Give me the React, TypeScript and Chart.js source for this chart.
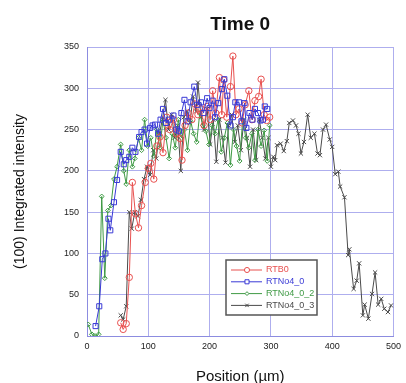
import React, { useEffect, useRef } from 'react';
import { Chart, registerables } from 'chart.js';
import { drawPoint } from 'chart.js/helpers';

Chart.register(...registerables);

const FONT = "'Liberation Sans', Arial, sans-serif";

const xTicks = [0, 100, 200, 300, 400, 500];
const yTicks = [0, 50, 100, 150, 200, 250, 300, 350];

const seriesNames = ['RTB0', 'RTNo4_0', 'RTNo4_0_2', 'RTNo4_0_3'];
const seriesColors = ['#e8504f', '#3a3ad6', '#3f9a45', '#4a4a4a'];

const redX = [55, 59, 64, 69, 74, 79, 84, 89, 95, 100, 104, 109, 114, 119, 124, 130, 135, 141, 146, 152, 155, 160, 165, 171, 176, 181, 186, 191, 196, 201, 205, 210, 216, 220, 223, 228, 234, 238, 243, 248, 253, 258, 264, 269, 274, 280, 284, 289, 293, 298];
const redY = [16, 8, 15, 71, 186, 148, 131, 158, 186, 203, 209, 190, 230, 241, 222, 265, 250, 262, 245, 239, 213, 255, 270, 262, 281, 268, 275, 255, 278, 262, 297, 270, 313, 268, 310, 265, 302, 339, 268, 275, 258, 280, 297, 262, 285, 290, 311, 268, 261, 265];

const blueX = [14, 20, 25, 30, 35, 38, 44, 49, 55, 60, 64, 69, 74, 79, 85, 89, 94, 98, 103, 107, 111, 116, 120, 124, 129, 134, 141, 146, 150, 154, 159, 164, 169, 175, 180, 186, 190, 196, 200, 205, 209, 214, 220, 224, 229, 234, 238, 242, 248, 252, 257, 260, 265, 270, 274, 279, 283, 287, 290, 294];
const blueY = [12, 36, 93, 100, 142, 128, 162, 189, 223, 208, 213, 217, 228, 223, 241, 247, 250, 233, 252, 255, 256, 245, 262, 275, 258, 262, 267, 250, 248, 270, 286, 260, 283, 302, 280, 283, 270, 288, 276, 285, 265, 282, 299, 311, 291, 255, 265, 283, 283, 260, 282, 252, 270, 262, 275, 270, 261, 262, 278, 275];

const greenX = [2, 8, 13, 19, 24, 29, 34, 39, 44, 49, 55, 60, 64, 69, 74, 78, 84, 89, 94, 99, 104, 109, 114, 119, 124, 129, 134, 139, 144, 149, 154, 159, 164, 169, 174, 179, 184, 189, 194, 199, 204, 209, 214, 219, 224, 229, 234, 239, 244, 249, 254, 259, 264, 269, 274, 279, 284, 289, 294, 298];
const greenY = [14, 2, 0, 2, 169, 70, 152, 158, 190, 205, 232, 200, 184, 225, 205, 215, 240, 225, 262, 230, 240, 218, 250, 228, 262, 240, 215, 245, 228, 262, 240, 250, 225, 260, 245, 235, 270, 255, 248, 232, 255, 245, 262, 223, 240, 258, 207, 250, 230, 212, 262, 240, 228, 245, 213, 250, 230, 249, 212, 255];

const blackX = [55, 59, 64, 69, 73, 78, 83, 88, 93, 98, 103, 108, 113, 118, 123, 128, 133, 138, 143, 148, 153, 158, 163, 168, 173, 178, 181, 186, 191, 196, 201, 206, 211, 216, 221, 226, 231, 236, 241, 246, 251, 256, 261, 266, 271, 276, 281, 286, 291, 296, 300, 304, 307, 310, 316, 321, 326, 330, 336, 341, 345, 349, 354, 360, 365, 371, 376, 380, 385, 390, 396, 400, 405, 410, 413, 420, 426, 428, 435, 440, 444, 450, 453, 459, 465, 470, 475, 480, 485, 491, 496];
const blackY = [25, 20, 36, 150, 130, 150, 145, 165, 190, 205, 195, 225, 215, 245, 262, 286, 250, 268, 240, 255, 200, 265, 272, 258, 290, 272, 307, 265, 250, 275, 232, 262, 211, 262, 240, 210, 255, 268, 235, 255, 225, 262, 240, 205, 250, 213, 262, 240, 215, 240, 205, 217, 213, 231, 233, 224, 236, 258, 261, 255, 245, 221, 235, 268, 240, 245, 221, 219, 250, 256, 238, 229, 196, 199, 181, 168, 98, 105, 57, 67, 88, 25, 38, 21, 51, 77, 38, 45, 33, 29, 37];

const seriesX = [redX, blueX, greenX, blackX];
const seriesY = [redY, blueY, greenY, blackY];
const pointStyles = ['circle', 'rect', 'rectRot', 'crossRot'];
const pointRadii = [3.2, 3.6, 2.4, 3];

const toPoints = (xs: number[], ys: number[]) => xs.map((x, i) => ({ x, y: ys[i] }));

const titlePlugin = {
  id: 'centeredTitle',
  afterDraw(chart: any) {
    const { ctx, chartArea } = chart;
    ctx.save();
    ctx.font = `bold 19px ${FONT}`;
    ctx.fillStyle = '#111';
    ctx.textAlign = 'center';
    ctx.textBaseline = 'middle';
    ctx.fillText('Time 0', (chartArea.left + chartArea.right) / 2, 25);
    ctx.restore();
  },
};

const legendPlugin = {
  id: 'insetLegend',
  afterDraw(chart: any) {
    const { ctx, chartArea } = chart;
    const bx = chartArea.left + 139;
    const by = chartArea.top + 213;
    const bw = 91;
    const bh = 55;
    ctx.save();
    ctx.fillStyle = '#fff';
    ctx.fillRect(bx, by, bw, bh);
    ctx.strokeStyle = '#555';
    ctx.lineWidth = 1.5;
    ctx.strokeRect(bx, by, bw, bh);
    ctx.font = `9px ${FONT}`;
    ctx.textBaseline = 'middle';
    ctx.textAlign = 'left';
    chart.data.datasets.forEach((ds: any, i: number) => {
      const y = by + 10 + i * 11.8;
      ctx.strokeStyle = ds.borderColor;
      ctx.lineWidth = 1;
      ctx.beginPath();
      ctx.moveTo(bx + 5, y);
      ctx.lineTo(bx + 36, y);
      ctx.stroke();
      ctx.fillStyle = '#fff';
      ctx.strokeStyle = ds.borderColor;
      ctx.lineWidth = 1;
      drawPoint(ctx, { pointStyle: ds.pointStyle, radius: ds.pointRadius * 0.8, borderWidth: 1, rotation: 0 } as any, bx + 21, y);
      ctx.fillStyle = ds.borderColor;
      ctx.fillText(ds.label, bx + 40, y);
    });
    ctx.restore();
  },
};

export default function App() {
  const canvasRef = useRef<HTMLCanvasElement | null>(null);

  useEffect(() => {
    const canvas = canvasRef.current;
    if (!canvas) return;
    const chart = new Chart(canvas, {
      type: 'line',
      data: {
        datasets: seriesNames.map((name, i) => ({
          label: name,
          data: toPoints(seriesX[i], seriesY[i]),
          borderColor: seriesColors[i],
          backgroundColor: 'rgba(255,255,255,0)',
          borderWidth: 1,
          pointStyle: pointStyles[i] as any,
          pointRadius: pointRadii[i],
          pointBorderWidth: 1,
          pointBorderColor: seriesColors[i],
          pointBackgroundColor: 'rgba(255,255,255,0)',
          tension: 0,
          fill: false,
          order: [1, 0, 2, 3][i],
        })),
      },
      options: {
        responsive: false,
        animation: false,
        events: [],
        layout: { padding: { top: 47, right: 8, left: 0, bottom: 0 } },
        plugins: {
          legend: { display: false },
          title: { display: false },
          tooltip: { enabled: false },
        },
        scales: {
          x: {
            type: 'linear',
            min: 0,
            max: 500,
            afterFit: (scale: any) => {
              scale.height = 47;
            },
            afterBuildTicks: (scale: any) => {
              scale.ticks = xTicks.map((v) => ({ value: v }));
            },
            ticks: {
              font: { family: FONT, size: 9 },
              color: '#222',
              padding: 5,
              maxRotation: 0,
            },
            grid: { color: '#aeaeee', lineWidth: 1, drawTicks: false },
            border: { color: '#8c8ce0', width: 1 },
            title: {
              display: true,
              text: 'Position (\u00b5m)',
              font: { family: FONT, size: 15, lineHeight: 0.8 },
              color: '#111',
              padding: 0,
            },
          },
          y: {
            type: 'linear',
            min: 0,
            max: 350,
            afterFit: (scale: any) => {
              scale.width = 87;
            },
            afterBuildTicks: (scale: any) => {
              scale.ticks = yTicks.map((v) => ({ value: v }));
            },
            ticks: {
              font: { family: FONT, size: 9 },
              color: '#222',
              padding: 8,
            },
            grid: { color: '#aeaeee', lineWidth: 1, drawTicks: false },
            border: { color: '#8c8ce0', width: 1 },
            title: {
              display: true,
              text: '(100) Integrated intensity',
              font: { family: FONT, size: 14 },
              color: '#111',
              padding: { top: 12, bottom: 0 },
            },
          },
        },
      },
      plugins: [titlePlugin, legendPlugin],
    } as any);
    return () => chart.destroy();
  }, []);

  return (
    <div style={{ position: 'fixed', left: 0, top: 0, width: 406, height: 383, background: '#fff' }}>
      <canvas ref={canvasRef} width={406} height={383} style={{ display: 'block' }} />
    </div>
  );
}
